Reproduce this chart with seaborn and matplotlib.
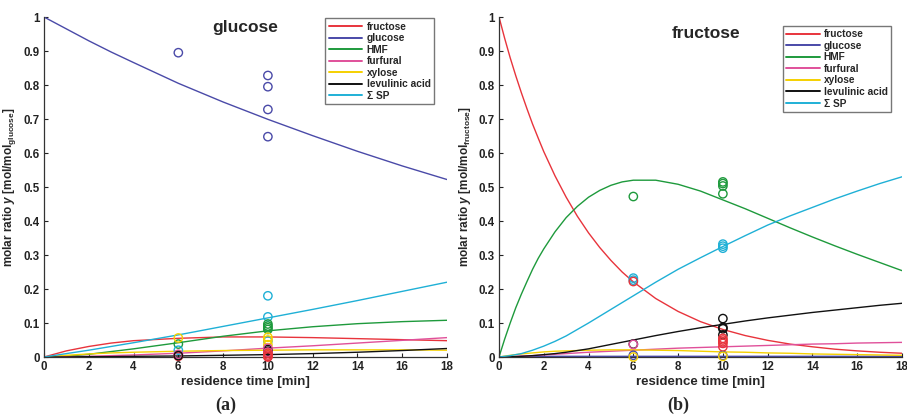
import numpy as np
import pandas as pd
import matplotlib
matplotlib.use("Agg")
import matplotlib.pyplot as plt
import seaborn as sns

species = ["fructose", "glucose", "HMF", "furfural", "xylose", "levulinic acid", "Σ SP"]
colors = ["#e8343c", "#4a4aa8", "#1e9a3c", "#e0509a", "#f5d000", "#111111", "#1fb0d6"]

# ---------------- panel (a): glucose feed ----------------
ta = [0, 1, 2, 3, 4, 6, 8, 10, 12, 14, 16, 18]
a_fructose = [0, 0.018, 0.031, 0.041, 0.048, 0.055, 0.059, 0.059, 0.057, 0.054, 0.051, 0.048]
a_glucose = [1.0, 0.965, 0.93, 0.897, 0.866, 0.805, 0.75, 0.699, 0.651, 0.605, 0.562, 0.522]
a_hmf = [0, 0.002, 0.008, 0.016, 0.024, 0.042, 0.061, 0.077, 0.089, 0.098, 0.104, 0.108]
a_furfural = [0, 0.001, 0.002, 0.004, 0.006, 0.011, 0.018, 0.026, 0.033, 0.041, 0.049, 0.057]
a_xylose = [0, 0.005, 0.009, 0.012, 0.014, 0.017, 0.019, 0.02, 0.021, 0.021, 0.021, 0.02]
a_levulinic = [0, 0, 0.001, 0.001, 0.002, 0.003, 0.005, 0.007, 0.01, 0.014, 0.019, 0.025]
a_sp = [0, 0.01, 0.02, 0.031, 0.042, 0.065, 0.09, 0.115, 0.14, 0.166, 0.193, 0.22]

a_pts_species = ["glucose", "HMF", "xylose", "Σ SP", "fructose", "furfural", "levulinic acid",
                 "glucose", "glucose", "glucose", "glucose",
                 "Σ SP", "Σ SP", "Σ SP",
                 "HMF", "HMF", "HMF", "HMF",
                 "xylose", "xylose", "xylose",
                 "levulinic acid", "levulinic acid",
                 "furfural", "furfural",
                 "fructose", "fructose", "fructose", "fructose"]
a_pts_t = [6, 6, 6, 6, 6, 6, 6,
           10, 10, 10, 10,
           10, 10, 10,
           10, 10, 10, 10,
           10, 10, 10,
           10, 10,
           10, 10,
           10, 10, 10, 10]
a_pts_y = [0.895, 0.038, 0.056, 0.02, 0.002, 0.008, 0.004,
           0.828, 0.795, 0.728, 0.648,
           0.18, 0.118, 0.047,
           0.097, 0.091, 0.086, 0.081,
           0.058, 0.05, 0.036,
           0.022, 0.017,
           0.026, 0.014,
           0.011, 0.006, 0.002, 0.0]

# ---------------- panel (b): fructose feed ----------------
tb = [0, 0.5, 1, 1.5, 2, 2.5, 3, 4, 5, 6, 7, 8, 9, 10, 11, 12, 13, 14, 15, 16, 17, 18]
tb_fine = [0, 0.25, 0.5, 0.75, 1, 1.25, 1.5, 1.75, 2, 2.5, 3, 3.5, 4, 4.5, 5, 5.5, 6, 7, 8,
           9, 10, 11, 12, 13, 14, 15, 16, 17, 18]
b_fructose = [1.0, 0.938, 0.88, 0.827, 0.777, 0.73, 0.685, 0.644, 0.604, 0.533, 0.47, 0.414,
              0.365, 0.322, 0.284, 0.25, 0.221, 0.172, 0.134,
              0.104, 0.081, 0.063, 0.049, 0.038, 0.03, 0.023, 0.018, 0.014, 0.011]
b_hmf = [0, 0.052, 0.1, 0.145, 0.185, 0.222, 0.258, 0.29, 0.318, 0.368, 0.41, 0.443,
         0.47, 0.49, 0.505, 0.515, 0.52, 0.52, 0.508,
         0.488, 0.462, 0.436, 0.408, 0.38, 0.353, 0.327, 0.302, 0.278, 0.254]
b_glucose = [0, 0.001, 0.001, 0.002, 0.002, 0.002, 0.002, 0.002, 0.002, 0.002, 0.002, 0.002,
             0.002, 0.002, 0.002, 0.002, 0.002, 0.002, 0.002, 0.002, 0.002, 0.002]
b_furfural = [0, 0.001, 0.003, 0.004, 0.006, 0.008, 0.01, 0.014, 0.017, 0.02, 0.023, 0.026,
              0.028, 0.03, 0.032, 0.034, 0.036, 0.038, 0.039, 0.041, 0.042, 0.043]
b_xylose = [0, 0.005, 0.009, 0.012, 0.015, 0.017, 0.018, 0.02, 0.021, 0.021, 0.02, 0.019,
            0.017, 0.015, 0.014, 0.012, 0.011, 0.009, 0.008, 0.007, 0.006, 0.005]
b_levulinic = [0, 0.0005, 0.002, 0.004, 0.007, 0.01, 0.014, 0.024, 0.037, 0.05, 0.063, 0.075,
               0.086, 0.096, 0.106, 0.115, 0.123, 0.131, 0.138, 0.145, 0.152, 0.158]
b_sp = [0, 0.004, 0.01, 0.02, 0.032, 0.046, 0.062, 0.1, 0.14, 0.18, 0.22, 0.258,
        0.292, 0.325, 0.357, 0.388, 0.415, 0.44, 0.465, 0.488, 0.51, 0.53]

b_pts_species = ["HMF", "Σ SP", "Σ SP", "fructose", "levulinic acid", "furfural", "glucose", "xylose",
                 "HMF", "HMF", "HMF", "HMF",
                 "Σ SP", "Σ SP", "Σ SP",
                 "levulinic acid", "levulinic acid", "levulinic acid", "levulinic acid",
                 "fructose", "fructose", "fructose", "fructose", "fructose",
                 "glucose", "xylose"]
b_pts_t = [6, 6, 6, 6, 6, 6, 6, 6,
           10, 10, 10, 10,
           10, 10, 10,
           10, 10, 10, 10,
           10, 10, 10, 10, 10,
           10, 10]
b_pts_y = [0.472, 0.232, 0.226, 0.222, 0.038, 0.037, 0.005, 0.0,
           0.515, 0.51, 0.503, 0.48,
           0.332, 0.326, 0.32,
           0.113, 0.087, 0.083, 0.065,
           0.055, 0.05, 0.045, 0.04, 0.03,
           0.004, 0.002]

xticks = [0, 2, 4, 6, 8, 10, 12, 14, 16, 18]
yticks = [0, 0.1, 0.2, 0.3, 0.4, 0.5, 0.6, 0.7, 0.8, 0.9, 1]
ytick_labels = ["0", "0.1", "0.2", "0.3", "0.4", "0.5", "0.6", "0.7", "0.8", "0.9", "1"]

sns.set_style("ticks")
plt.rcParams["font.family"] = ["Liberation Sans", "DejaVu Sans"]
plt.rcParams["font.weight"] = "bold"
plt.rcParams["mathtext.fontset"] = "custom"
plt.rcParams["mathtext.rm"] = "Liberation Sans:bold"
plt.rcParams["mathtext.it"] = "Liberation Sans:italic:bold"
plt.rcParams["mathtext.bf"] = "Liberation Sans:bold"

palette = dict(zip(species, colors))


def long_df(series):
    rows = []
    for name, (t, vals) in zip(species, series):
        for ti, v in zip(t, vals):
            rows.append((name, ti, v))
    return pd.DataFrame(rows, columns=["species", "t", "y"])


fig = plt.figure(figsize=(9.07, 4.15), dpi=100)
ax_a = fig.add_axes([44 / 907, 1 - 357 / 415, 403 / 907, 340 / 415])
ax_b = fig.add_axes([499 / 907, 1 - 357 / 415, 403 / 907, 340 / 415])

curves_a = long_df([(ta, a_fructose), (ta, a_glucose), (ta, a_hmf), (ta, a_furfural),
                    (ta, a_xylose), (ta, a_levulinic), (ta, a_sp)])
curves_b = long_df([(tb_fine, b_fructose), (tb, b_glucose), (tb_fine, b_hmf), (tb, b_furfural),
                    (tb, b_xylose), (tb, b_levulinic), (tb, b_sp)])

panels = [
    (ax_a, curves_a,
     pd.DataFrame({"species": a_pts_species, "t": a_pts_t, "y": a_pts_y}),
     "glucose", (0.50, 0.968), (0.968, 0.997), "(a)", 0.249),
    (ax_b, curves_b,
     pd.DataFrame({"species": b_pts_species, "t": b_pts_t, "y": b_pts_y}),
     "fructose", (0.514, 0.95), (0.973, 0.974), "(b)", 0.748),
]

for ax, curves, pts, feed, tpos, lpos, tag, tagx in panels:
    sns.lineplot(data=curves, x="t", y="y", hue="species", hue_order=species,
                 palette=palette, estimator=None, linewidth=1.0, ax=ax)
    sns.scatterplot(data=pts, x="t", y="y", hue="species", hue_order=species,
                    palette=palette, marker="o", s=36, linewidth=1.0, legend=False,
                    ax=ax, zorder=3, clip_on=False)
    for coll in ax.collections:
        fc = coll.get_facecolors()
        coll.set_edgecolors(fc)
        coll.set_facecolors("none")

    ax.set_xlim(0, 18)
    ax.set_ylim(0, 1)
    ax.set_xticks(xticks)
    ax.set_xticklabels([str(v) for v in xticks], fontsize=8.3, fontweight="bold")
    ax.set_yticks(yticks)
    ax.set_yticklabels(ytick_labels, fontsize=8.3, fontweight="bold")
    ax.tick_params(direction="in", length=3, width=0.8, pad=3, colors="#222222")
    sns.despine(ax=ax)
    for s in ["left", "bottom"]:
        ax.spines[s].set_linewidth(0.9)
        ax.spines[s].set_color("#333333")

    ax.set_xlabel("residence time [min]", fontsize=9.5, fontweight="bold", labelpad=2)
    ax.set_ylabel(r"molar ratio $\mathit{y}$ [mol/mol$_{\mathrm{" + feed + r"}}$]",
                  fontsize=8.5, fontweight="bold", labelpad=4)
    ax.text(tpos[0], tpos[1], feed, transform=ax.transAxes, ha="center", va="center",
            fontsize=12.5, fontweight="bold")

    handles, labels = ax.get_legend_handles_labels()
    leg = ax.legend(handles, labels, loc="upper right", bbox_to_anchor=lpos,
                    prop={"size": 7.3, "weight": "bold"}, frameon=True, fancybox=False,
                    handlelength=3.3, handletextpad=0.4, labelspacing=0.15,
                    borderpad=0.35, borderaxespad=0)
    leg.get_frame().set_edgecolor("#555555")
    leg.get_frame().set_linewidth(1.0)
    for line in leg.get_lines():
        line.set_linewidth(1.4)

    fig.text(tagx, 0.024, tag, ha="center", va="center", fontsize=13,
             fontweight="bold", family=["Liberation Serif", "DejaVu Serif"])

fig.savefig("out.png", dpi=100)
